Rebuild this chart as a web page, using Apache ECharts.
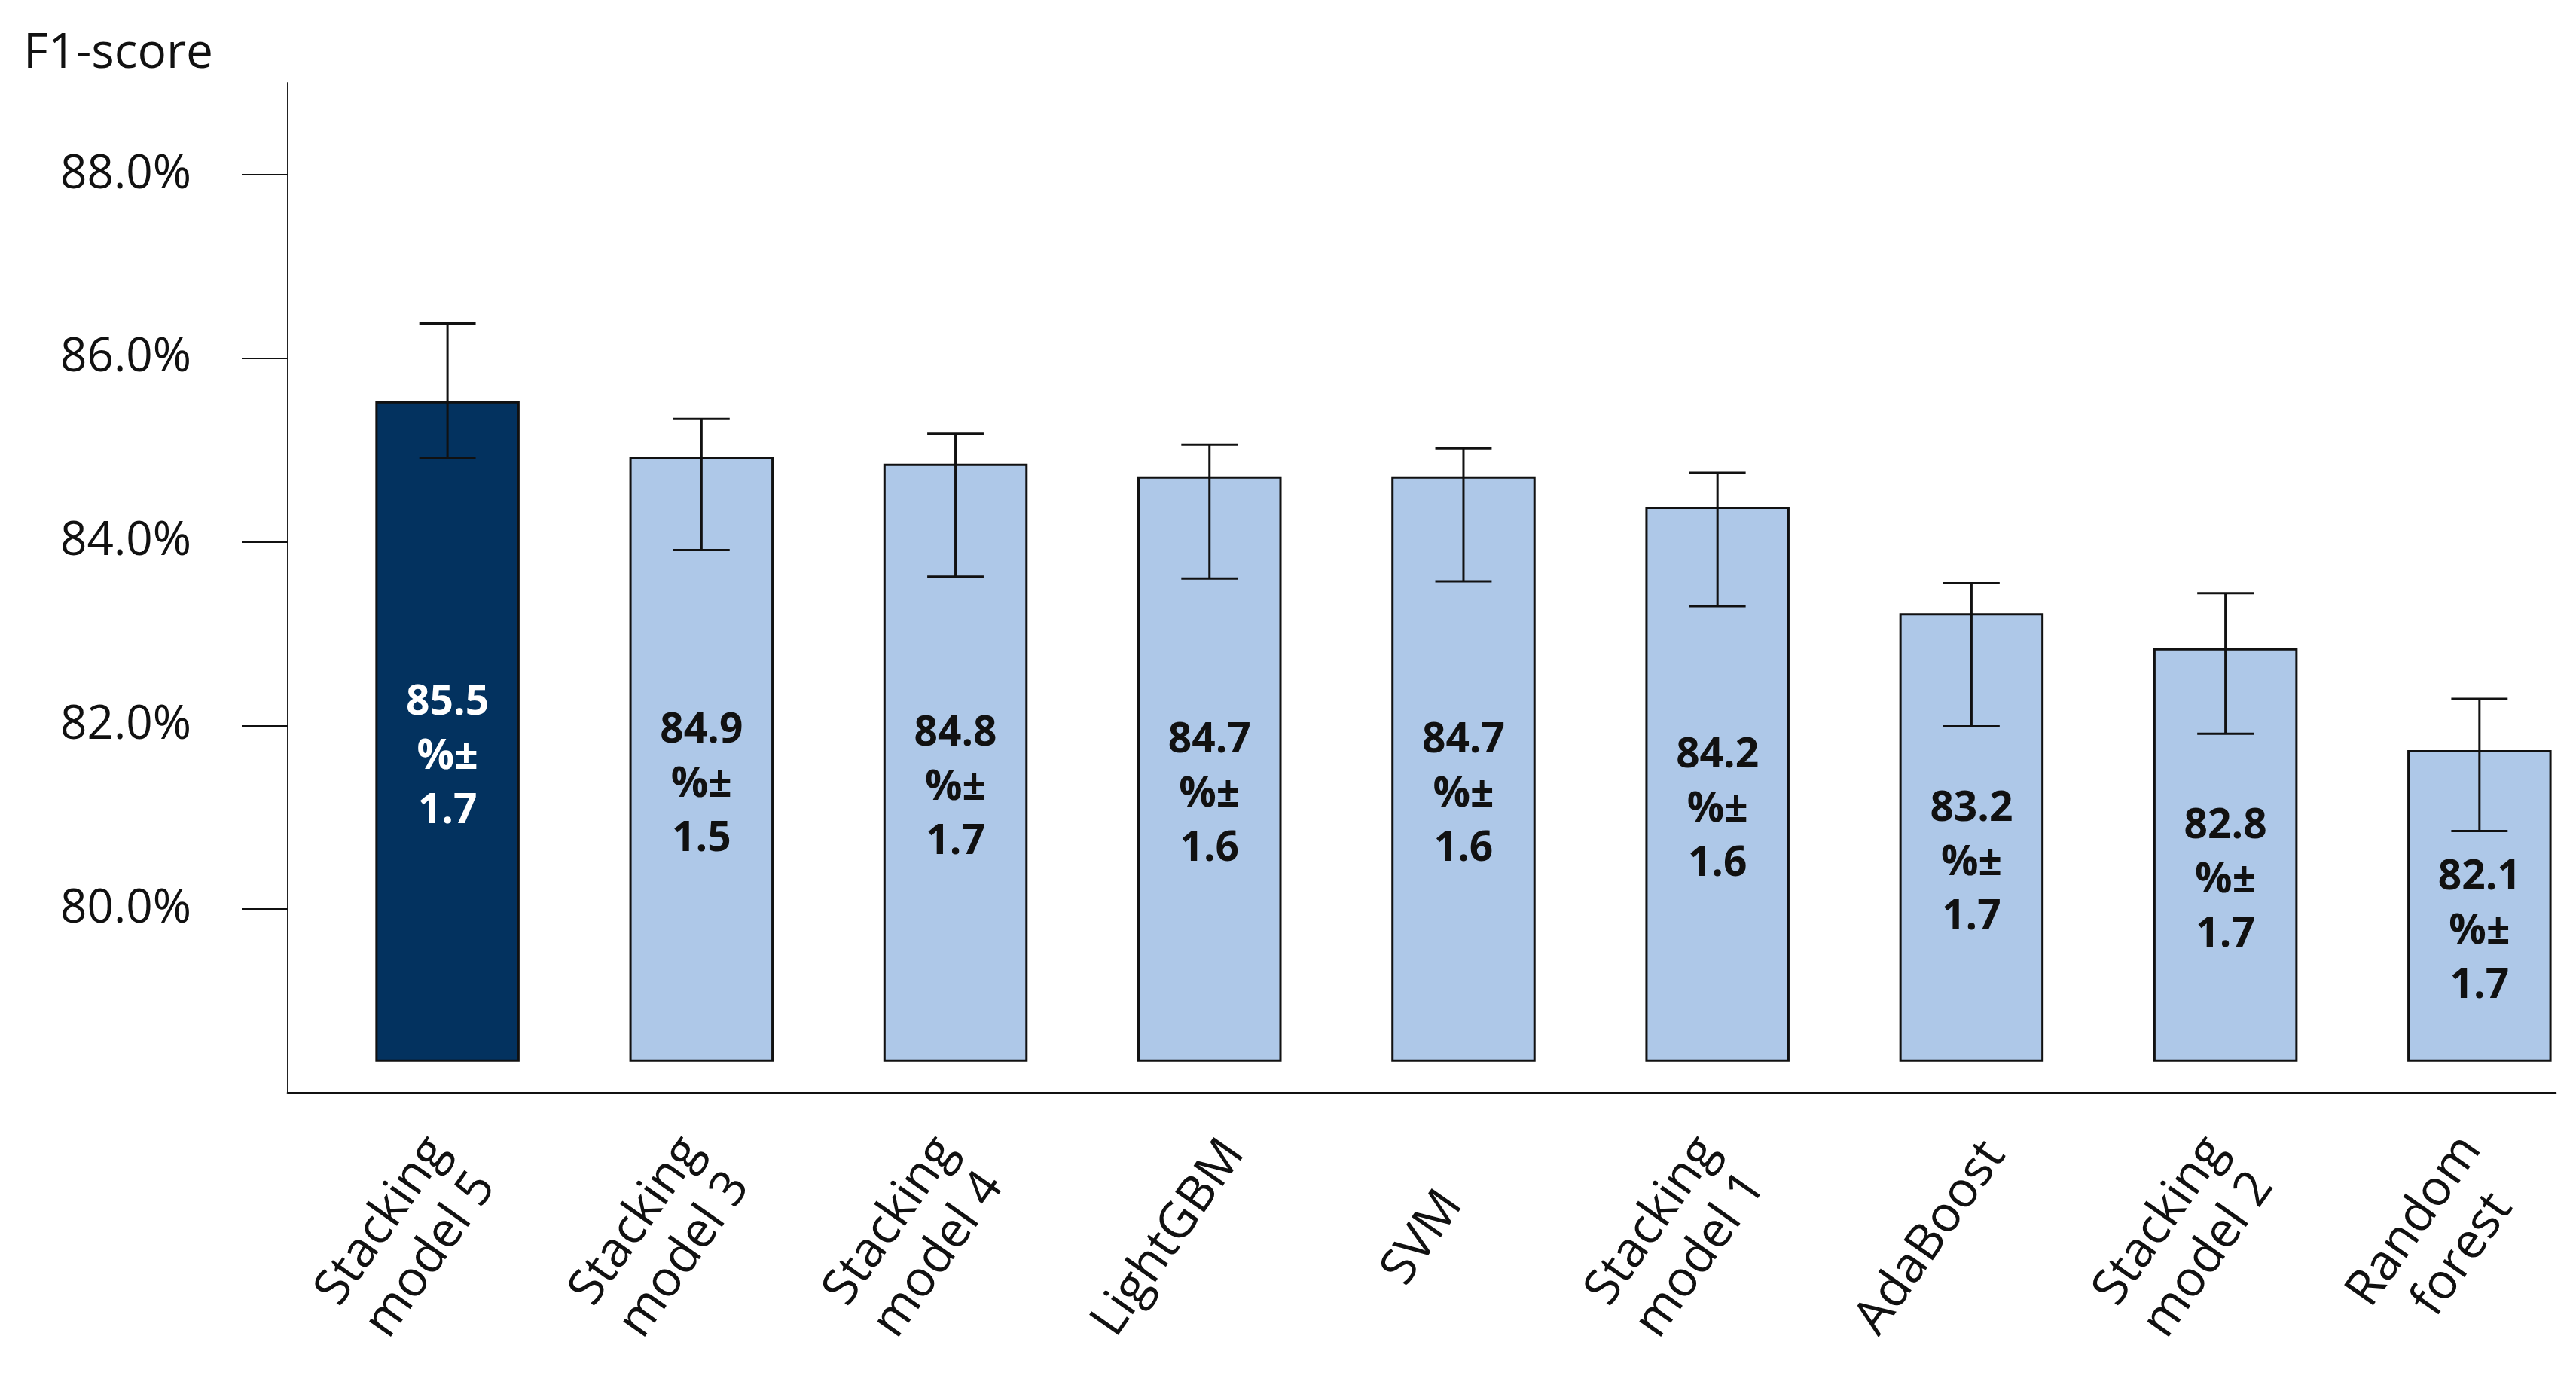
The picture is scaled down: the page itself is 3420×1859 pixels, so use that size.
<!DOCTYPE html>
<html>
<head>
<meta charset="utf-8">
<script src="https://cdn.jsdelivr.net/npm/echarts@6/dist/echarts.min.js"></script>
<style>
html,body{margin:0;padding:0;background:#fff;}
#chart{width:3420px;height:1859px;}
</style>
</head>
<body>
<div id="chart"></div>
<script>
// ---- data ----
const categories = ['Stacking\nmodel 5', 'Stacking\nmodel 3', 'Stacking\nmodel 4', 'LightGBM', 'SVM',
  'Stacking\nmodel 1', 'AdaBoost', 'Stacking\nmodel 2', 'Random\nforest'];
const meanLabel = [85.5, 84.9, 84.8, 84.7, 84.7, 84.2, 83.2, 82.8, 82.1];
const sdLabel = [1.7, 1.5, 1.7, 1.6, 1.6, 1.6, 1.7, 1.7, 1.7];
const barTop = [85.52, 84.91, 84.84, 84.70, 84.70, 84.37, 83.21, 82.83, 81.72];
const errHigh = [86.38, 85.34, 85.18, 85.06, 85.02, 84.75, 83.55, 83.44, 82.29];
const errLow = [84.91, 83.91, 83.62, 83.60, 83.57, 83.30, 81.99, 81.91, 80.85];
const barBase = 78.35;
const yTicks = [80, 82, 84, 86, 88];
const catIndex = categories.map((c, i) => i);

const FONT = 'Open Sans';
const DARK = '#03325F';
const LIGHT = '#AEC8E8';
const LABEL_SHIFT = -0.16; // category labels sit slightly left of their bars

const chart = echarts.init(document.getElementById('chart'));
chart.setOption({
  animation: false,
  backgroundColor: '#fff',
  title: {
    text: 'F1-score', left: 31, top: 40, padding: 0,
    textStyle: { fontSize: 64, fontWeight: 'normal', fontFamily: FONT, color: '#111' }
  },
  grid: { left: 382, right: 27, top: 110, bottom: 408, containLabel: false },
  xAxis: {
    type: 'value', min: -0.629, max: 8.30,
    axisLine: { show: true, onZero: false, lineStyle: { color: '#111', width: 3 } },
    axisTick: { show: false },
    splitLine: { show: false },
    axisLabel: {
      customValues: catIndex.map(i => i + LABEL_SHIFT),
      formatter: v => categories[Math.round(v)] || '',
      rotate: 55, align: 'center', verticalAlign: 'middle', margin: 193,
      fontSize: 66, fontFamily: FONT, color: '#111', lineHeight: 78
    }
  },
  yAxis: {
    type: 'value', min: 78, max: 89,
    axisLine: { show: true, onZero: false, lineStyle: { color: '#222', width: 2 } },
    axisTick: { show: true, customValues: yTicks, length: 61, lineStyle: { color: '#111', width: 2 } },
    splitLine: { show: false },
    axisLabel: {
      customValues: yTicks,
      formatter: v => v.toFixed(1) + '%',
      margin: 128, fontSize: 62, fontFamily: FONT, color: '#111'
    }
  },
  series: [
    {
      type: 'custom',
      data: catIndex.map(i => [i, barTop[i]]),
      encode: { x: 0, y: 1 },
      renderItem: function (params, api) {
        const i = params.dataIndex;
        const x = api.value(0);
        const top = api.coord([x, api.value(1)]);
        const base = api.coord([x, barBase]);
        const w = api.size([1, 0])[0] * 0.559;
        return {
          type: 'group',
          children: [
            {
              type: 'rect',
              shape: { x: top[0] - w / 2, y: top[1], width: w, height: base[1] - top[1] },
              style: { fill: i === 0 ? DARK : LIGHT, stroke: '#111', lineWidth: 3 }
            },
            {
              type: 'text',
              style: {
                text: meanLabel[i].toFixed(1) + '\n%±\n' + sdLabel[i].toFixed(1),
                x: top[0], y: (top[1] + base[1]) / 2 + 34,
                align: 'center', verticalAlign: 'middle',
                fontSize: 55, fontWeight: 'bold', fontFamily: FONT, lineHeight: 72,
                fill: i === 0 ? '#ffffff' : '#111'
              }
            }
          ]
        };
      }
    },
    {
      type: 'custom',
      z: 5,
      data: catIndex.map(i => [i, errLow[i], errHigh[i]]),
      encode: { x: 0, y: [1, 2] },
      renderItem: function (params, api) {
        const x = api.value(0);
        const lo = api.coord([x, api.value(1)]);
        const hi = api.coord([x, api.value(2)]);
        const cw = api.size([1, 0])[0] * 0.222;
        const st = { stroke: '#111', lineWidth: 3 };
        return {
          type: 'group',
          children: [
            { type: 'line', shape: { x1: lo[0], y1: lo[1], x2: hi[0], y2: hi[1] }, style: st },
            { type: 'line', shape: { x1: hi[0] - cw / 2, y1: hi[1], x2: hi[0] + cw / 2, y2: hi[1] }, style: st },
            { type: 'line', shape: { x1: lo[0] - cw / 2, y1: lo[1], x2: lo[0] + cw / 2, y2: lo[1] }, style: st }
          ]
        };
      }
    }
  ]
});
</script>
</body>
</html>
